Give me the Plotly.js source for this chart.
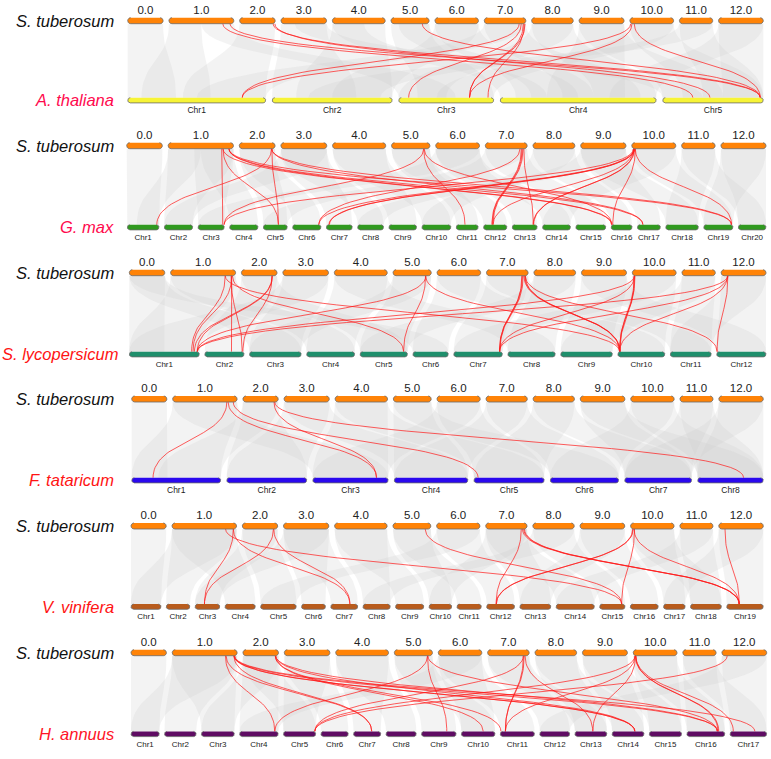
<!DOCTYPE html>
<html><head><meta charset="utf-8">
<script src="https://cdn.plot.ly/plotly-3.0.1.min.js"></script>
<style>html,body{margin:0;padding:0;background:#fff}#chart{width:771px;height:759px}</style>
</head><body><div id="chart"></div>
<script>
// ================= DATA =================
// S. tuberosum chromosomes (top track in every panel), relative lengths
const stLabels = ['0.0','1.0','2.0','3.0','4.0','5.0','6.0','7.0','8.0','9.0','10.0','11.0','12.0'];
const stLengths = [48.4, 88.7, 48.6, 62.3, 72.2, 52.1, 59.5, 56.8, 56.9, 61.5, 59.8, 45.5, 61.2];

const speciesNames = ['A. thaliana','G. max','S. lycopersicum','F. tataricum','V. vinifera','H. annuus'];

// bottom-track chromosome relative lengths
const athLengths = [138, 120, 95, 156, 100.6];
const gmaLengths = [31.7,28.4,26.3,28.4,24,28.4,26,26,27.7,29,22,23.4,25,28,30,21,23,32.7,29.3,27.7];
const slyLengths = [70,39.3,51.7,48,47.4,35.4,48.7,47.4,51.7,47,41,49.3];
const ftaLengths = [89,80,75.4,73.7,70.3,68.4,67,65.6];
const vviLengths = [30,23.6,24.7,30.3,35.7,24,27,27.3,28.3,22.7,24.4,28,31,38.3,25.4,28,21.7,31,36.6];
const hanLengths = [28.3,31.7,33,38.7,32.3,27.4,27.3,30.3,34.7,33.7,34.3,30,32,32,32.4,38,36.7];

// highlighted (red) collinear pairs: [S.tuberosum chr idx, relative pos, other chr idx, relative pos]
const athLinks = [[1,0.83,4,0.30],[1,0.94,4,0.97],[2,0.94,4,0.97],[2,0.99,4,0.47],[5,0.82,4,0.97],[10,0.10,4,0.97],
 [7,0.84,0,0.83],[10,0.02,0,0.83],[7,0.89,2,0.105],[7,0.94,2,0.745],[7,0.98,2,0.745],[10,0.05,2,0.745],[7,0.96,2,0.94]];
const gmaLinks = [[1,0.82,2,0.94],[2,0.90,0,0.93],[2,0.91,4,0.63],[1,0.84,4,0.63],[5,0.84,2,0.99],[10,0.04,2,0.99],
 [10,0.05,5,0.92],[7,0.83,5,0.92],[10,0.06,6,0.10],[10,0.07,6,0.12],[7,0.86,11,0.36],[7,0.88,11,0.38],[7,0.90,11,0.41],
 [10,0.04,11,0.41],[7,0.92,12,0.84],[10,0.05,12,0.84],[10,0.06,12,0.86],[10,0.08,15,0.08],[10,0.08,18,0.95],
 [1,0.84,15,0.02],[1,0.93,16,0.24],[1,0.93,18,0.95],[2,0.90,18,0.95],[5,0.84,10,0.40],[5,0.85,15,0.03],[2,0.91,16,0.24],[1,0.93,15,0.05]];
const slyLinks = [[1,0.84,0,0.89],[1,0.94,0,0.91],[1,0.94,1,0.68],[2,0.86,0,0.93],[2,0.87,0,0.97],[2,0.86,1,0.97],[1,0.93,1,0.95],
 [1,0.84,9,0.04],[1,0.95,4,0.92],[5,0.85,4,0.92],[5,0.86,0,0.97],[5,0.85,9,0.04],[7,0.85,6,0.94],[7,0.86,6,0.94],[7,0.88,6,0.95],
 [10,0.05,6,0.94],[12,0.15,6,0.94],[7,0.90,9,0.04],[7,0.92,9,0.04],[7,0.93,9,0.05],[7,0.93,11,0.01],[10,0.04,9,0.04],
 [10,0.05,9,0.05],[10,0.06,9,0.04],[10,0.05,0,0.97],[12,0.15,0,0.97],[12,0.15,11,0.01],[12,0.14,9,0.04]];
const ftaLinks = [[1,0.84,0,0.24],[1,0.86,2,0.845],[2,0.88,2,0.845],[1,0.94,4,0.06],[2,0.90,7,0.70]];
const vviLinks = [[1,0.83,14,0.87],[1,0.95,6,0.71],[1,0.95,2,0.38],[2,0.88,2,0.38],[2,0.89,6,0.71],[5,0.85,14,0.87],
 [7,0.86,11,0.34],[7,0.89,18,0.34],[7,0.94,18,0.34],[7,0.92,18,0.35],[10,0.05,11,0.34],[10,0.06,11,0.35],
 [10,0.09,14,0.87],[10,0.08,18,0.34],[12,0.14,18,0.34]];
const hanLinks = [[1,0.82,3,0.91],[1,0.83,6,0.67],[1,0.95,6,0.67],[1,0.95,13,0.71],[1,0.96,13,0.72],[1,0.95,15,0.82],
 [1,0.96,16,0.68],[2,0.91,9,0.65],[2,0.91,10,0.02],[2,0.92,13,0.71],[2,0.92,15,0.80],[5,0.87,3,0.91],[5,0.87,8,0.73],
 [5,0.88,15,0.80],[7,0.86,4,0.97],[7,0.86,10,0.15],[7,0.88,10,0.15],[7,0.90,12,0.56],[10,0.04,4,0.97],[10,0.04,10,0.15],
 [10,0.05,12,0.56],[10,0.05,15,0.82],[10,0.06,15,0.84],[10,0.06,16,0.09],[12,0.12,4,0.97]];

// background collinear blocks (gray): [st chr, other chr] (whole chromosomes) or [st chr, from, to, other chr, from, to]
const athGray = [[0,0,1,0,0,0.35],[1,0,0.5,0,0.1,0.6],[1,0.5,1,2,0,0.6],[2,0,1,0,0.4,1],[3,0,1,1,0,0.7],[3,0.3,1,4,0,0.4],
 [4,0,1,1,0.2,1],[4,0,0.6,3,0,0.3],[5,0,1,2,0.2,1],[5,0.2,1,3,0.2,0.5],[6,0,1,3,0.1,0.6],[6,0,1,1,0.5,1],[7,0,1,3,0.4,0.9],
 [7,0,1,0,0.5,1],[8,0,1,3,0.6,1],[8,0,1,2,0,0.5],[9,0,1,4,0,0.6],[9,0,1,3,0.3,0.8],[10,0,1,4,0.2,1],[10,0,1,2,0.4,1],
 [11,0,1,4,0.4,1],[11,0,1,1,0.3,0.9],[12,0,1,4,0.6,1],[12,0,1,3,0.7,1]];
const gmaGray = [[0,0],[1,0,0.5,0,0.3,1],[1,1],[1,0.4,1,2,0,1],[1,0.5,1,3,0,1],[2,4],[2,5],[3,6],[3,7],[4,8],[4,9],[5,10],[5,11],
 [6,12],[6,13],[7,14],[7,4],[8,15],[8,9],[9,16],[9,17],[10,18],[10,13],[11,19],[11,17],[12,19],[12,18],[3,1],[6,2],[9,7]];
const slyGray = [[0,0,1,0,0,0.5],[0,2],[0,5],[1,0],[2,1],[3,2],[4,3],[5,4],[6,5],[7,6],[8,7],[9,8],[10,9],[11,10],[12,11],
 [1,3],[3,0],[4,7],[6,9],[8,4],[9,11],[11,8],[12,10],[10,6],[2,4],[5,2],[7,10]];
const ftaGray = [[0,0,1,0,0,0.4],[1,0],[1,2],[2,1],[2,0,1,0,0.3,1],[3,1],[3,3],[4,2],[4,4],[5,3],[5,5],[6,4],[6,2],[7,5],[7,3],
 [8,6],[8,4],[9,6],[9,7],[10,5],[10,7],[11,7],[11,6],[12,7],[12,6]];
const vviGray = [[0,0],[1,1],[1,3],[1,0],[2,4],[2,2],[3,5],[3,6],[4,7],[4,8],[5,9],[5,10],[6,11],[6,4],[7,12],[7,13],[8,14],[8,7],
 [9,15],[9,12],[10,16],[10,17],[11,17],[11,13],[12,18],[12,16],[3,2],[7,9]];
const hanGray = [[0,0],[1,1],[1,2],[1,0],[2,3],[2,4],[3,4],[3,5],[4,6],[4,7],[5,8],[5,9],[6,9],[6,10],[7,11],[7,12],[8,12],[8,13],
 [9,13],[9,14],[10,15],[10,14],[11,15],[11,16],[12,16],[12,11],[2,2],[6,3]];

const otherLengths = [athLengths, gmaLengths, slyLengths, ftaLengths, vviLengths, hanLengths];
const otherLinks = [athLinks, gmaLinks, slyLinks, ftaLinks, vviLinks, hanLinks];
const otherGray = [athGray, gmaGray, slyGray, ftaGray, vviGray, hanGray];

// ================= STYLE / LAYOUT =================
const geom = [
 {topY:20.7, botY:100.3, tx:[127.7,763.3], bx:[127.7,763.3], bgap:6.5, fill:'#f7f436', chrFont:8.5, nameColor:'#ff0a4e'},
 {topY:145.7, botY:227.3, tx:[126.7,766], bx:[127.3,766], bgap:5.3, fill:'#30991f', chrFont:8, nameColor:'#ff0a4e'},
 {topY:272.7, botY:354.3, tx:[129.3,766], bx:[129.3,766], bgap:5.4, fill:'#1f8f6c', chrFont:8, nameColor:'#ff1414'},
 {topY:399, botY:480.3, tx:[131.7,763.3], bx:[131.7,763.3], bgap:6, fill:'#2a08ee', chrFont:8.5, nameColor:'#ff1414'},
 {topY:526, botY:606.7, tx:[131,763.3], bx:[131,763.3], bgap:5.2, fill:'#b85b1c', chrFont:8, nameColor:'#ff1414'},
 {topY:652.7, botY:734, tx:[131,766.7], bx:[131,766.7], bgap:5.2, fill:'#5f0c63', chrFont:8, nameColor:'#ff1428'}
];
const TOPGAP = 5.8, RTOP = 3, RBOT = 2.6;
const FONT = 'Arial, "Liberation Sans", sans-serif';

function place(lengths, x0, x1, gap) {
  const sum = lengths.reduce((a,b)=>a+b,0);
  const s = (x1 - x0 - gap*(lengths.length-1)) / sum;
  const out = []; let x = x0;
  lengths.forEach(L => { out.push([x, x + L*s]); x += L*s + gap; });
  return out;
}
function barPath(segs, y, r) {
  const xs = [], ys = [];
  segs.forEach(([s,e]) => {
    const rr = Math.min(r, (e-s)/2);
    for (let i=0;i<=10;i++){ const a=-Math.PI/2+Math.PI*i/10; xs.push(e-rr+rr*Math.cos(a)); ys.push(y+r*Math.sin(a)); }
    for (let i=0;i<=10;i++){ const a=Math.PI/2+Math.PI*i/10; xs.push(s+rr+rr*Math.cos(a)); ys.push(y+r*Math.sin(a)); }
    xs.push(null); ys.push(null);
  });
  return {xs, ys};
}
function bez(x1,y1,x2,y2,n){
  const m=(y1+y2)/2, px=[], py=[];
  for(let i=0;i<=n;i++){const t=i/n,u=1-t;
    px.push(u*u*u*x1+3*u*u*t*x1+3*u*t*t*x2+t*t*t*x2);
    py.push(u*u*u*y1+3*u*u*t*m+3*u*t*t*m+t*t*t*y2);}
  return [px,py];
}

const annotations = [];
const grayTraces = [], redTraces = [], barTraces = [], textTraces = [];

geom.forEach((g, p) => {
  const topSeg = place(stLengths, g.tx[0], g.tx[1], TOPGAP);
  const botSeg = place(otherLengths[p], g.bx[0], g.bx[1], g.bgap);
  const yT = g.topY + RTOP, yB = g.botY - RBOT;
  const tpos = (c,f)=> topSeg[c][0] + f*(topSeg[c][1]-topSeg[c][0]);
  const bpos = (c,f)=> botSeg[c][0] + f*(botSeg[c][1]-botSeg[c][0]);

  // gray blocks
  otherGray[p].forEach(r => {
    const b = r.length === 2 ? [r[0],0,1,r[1],0,1] : r;
    const ta=tpos(b[0],b[1]), tb=tpos(b[0],b[2]), ba=bpos(b[3],b[4]), bb=bpos(b[3],b[5]);
    const [lx,ly]=bez(ta,yT,ba,yB,24), [rx,ry]=bez(tb,yT,bb,yB,24);
    grayTraces.push({x:lx.concat(rx.slice().reverse()), y:ly.concat(ry.slice().reverse()), mode:'lines', fill:'toself',
      fillcolor:'rgba(205,205,205,0.24)', line:{width:0}, hoverinfo:'skip', showlegend:false});
  });

  // red links
  const rx=[], ry=[];
  otherLinks[p].forEach(l => {
    const [px,py]=bez(tpos(l[0],l[1]), yT, bpos(l[2],l[3]), yB, 40);
    rx.push(...px, null); ry.push(...py, null);
  });
  redTraces.push({x:rx, y:ry, mode:'lines', line:{color:'rgba(255,25,25,0.78)', width:0.9}, hoverinfo:'skip', showlegend:false});

  // chromosome bars
  const tb = barPath(topSeg, g.topY, RTOP);
  barTraces.push({x:tb.xs, y:tb.ys, mode:'lines', fill:'toself', fillcolor:'#ff8307', line:{color:'#6a6a6a', width:0.8}, hoverinfo:'skip', showlegend:false});
  const bb = barPath(botSeg, g.botY, RBOT);
  barTraces.push({x:bb.xs, y:bb.ys, mode:'lines', fill:'toself', fillcolor:g.fill, line:{color:'#6a6a6a', width:0.8}, hoverinfo:'skip', showlegend:false});

  // labels
  textTraces.push({x:topSeg.map(s=>(s[0]+s[1])/2), y:topSeg.map(()=>g.topY-9.5), text:stLabels, mode:'text',
    textfont:{family:FONT, size:11.5, color:'#222'}, hoverinfo:'skip', showlegend:false});
  const chrLabels = otherLengths[p].map((_,i)=>'Chr'+(i+1));
  textTraces.push({x:botSeg.map(s=>(s[0]+s[1])/2), y:botSeg.map(()=>g.botY+10.5), text:chrLabels, mode:'text',
    textfont:{family:FONT, size:g.chrFont, color:'#222'}, hoverinfo:'skip', showlegend:false});

  annotations.push({x:115.5, y:g.topY, xref:'x', yref:'y', text:'S. tuberosum', showarrow:false, xanchor:'right', yanchor:'middle',
    font:{family:FONT, size:16.5, color:'#111', style:'italic'}});
  annotations.push({x: p===2 ? 120 : 115.5, y:g.botY, xref:'x', yref:'y', text:speciesNames[p], showarrow:false, xanchor:'right', yanchor:'middle',
    font:{family:FONT, size:16.5, color:g.nameColor, style:'italic'}});
});

const data = grayTraces.concat(redTraces, barTraces, textTraces);
const layout = {
  width:771, height:759, margin:{l:0,r:0,t:0,b:0}, paper_bgcolor:'#fff', plot_bgcolor:'#fff',
  xaxis:{range:[0,771], visible:false, fixedrange:true},
  yaxis:{range:[759,0], visible:false, fixedrange:true},
  showlegend:false, annotations
};
Plotly.newPlot('chart', data, layout, {staticPlot:true});
</script></body></html>
